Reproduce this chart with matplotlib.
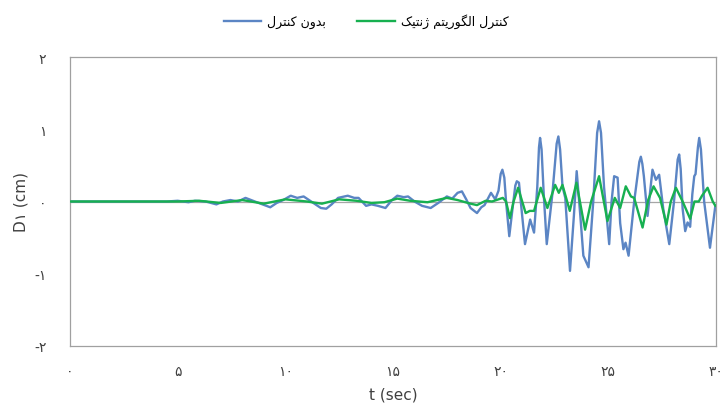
import numpy as np
import matplotlib
matplotlib.use("Agg")
import matplotlib.pyplot as plt

# ================================
# Data
# ================================

t_blue = [0, 4.5, 5.0, 5.5, 5.8, 6.3, 6.8, 7.1, 7.45, 7.8, 8.15, 8.5, 8.85, 9.3, 9.6, 9.9,
          10.25, 10.55, 10.85, 11.2, 11.65, 11.9, 12.15, 12.45, 12.9, 13.2, 13.4, 13.75,
          14.0, 14.3, 14.65, 14.95, 15.2, 15.5, 15.7, 16.0, 16.35, 16.75, 17.1, 17.5,
          17.75, 18.0, 18.2, 18.4, 18.6, 18.9, 19.1, 19.25, 19.55, 19.75, 19.9, 20.0, 20.08,
          20.17, 20.25, 20.4, 20.55, 20.68, 20.75, 20.85, 21.0, 21.13, 21.37, 21.55, 21.7,
          21.78, 21.83, 21.9, 22.0, 22.14, 22.4, 22.6, 22.68, 22.76, 22.87, 23.0, 23.22,
          23.4, 23.53, 23.7, 23.84, 24.08, 24.3, 24.48, 24.57, 24.66, 24.8, 25.04, 25.15,
          25.27, 25.43, 25.55, 25.7, 25.8, 25.94, 26.2, 26.44, 26.51, 26.58, 26.65, 26.82,
          27.05, 27.21, 27.36, 27.55, 27.83, 28.05, 28.22, 28.29, 28.36, 28.45, 28.57,
          28.68, 28.8, 28.9, 28.99, 29.05, 29.16, 29.22, 29.3, 29.45, 29.72, 29.97]
d_blue = [0, 0, 0.01, -0.01, 0.01, 0.0, -0.04, 0.0, 0.02, 0.0, 0.05, 0.01, -0.03, -0.08, -0.02, 0.02,
          0.08, 0.05, 0.07, 0.0, -0.09, -0.1, -0.04, 0.05, 0.08, 0.05, 0.05, -0.06,
          -0.04, -0.06, -0.09, 0.02, 0.08, 0.06, 0.07, 0.0, -0.06, -0.09, -0.02, 0.07,
          0.04, 0.12, 0.14, 0.03, -0.09, -0.16, -0.08, -0.05, 0.12, 0.03, 0.15, 0.38, 0.44,
          0.33, 0.0, -0.48, -0.1, 0.22, 0.28, 0.26, -0.2, -0.59, -0.25, -0.43, 0.2,
          0.75, 0.88, 0.72, 0.1, -0.59, 0.1, 0.80, 0.90, 0.72, 0.21, 0.05, -0.96,
          -0.2, 0.42, -0.2, -0.75, -0.91, 0.0, 0.95, 1.11, 0.95, 0.2, -0.59, 0.0,
          0.35, 0.33, -0.3, -0.66, -0.57, -0.75, 0.0, 0.55, 0.62, 0.52, 0.35, -0.2,
          0.44, 0.30, 0.37, -0.1, -0.59, 0.0, 0.58, 0.65, 0.45, -0.1, -0.41,
          -0.29, -0.35, 0.1, 0.35, 0.38, 0.75, 0.88, 0.72, 0.0, -0.64, -0.06]

t_green = [0, 5, 6, 7, 8, 9, 10, 11, 11.7, 12.5, 13.3, 14.0, 14.6, 15.2, 15.8, 16.6, 17.5,
           18.0, 18.6, 18.9, 19.3, 19.6, 19.9, 20.1, 20.25, 20.43, 20.6, 20.81, 21.0,
           21.16, 21.35, 21.55, 21.86, 22.17, 22.53, 22.7, 22.87, 23.21, 23.52, 23.92,
           24.2, 24.57, 24.96, 25.3, 25.55, 25.81, 26.05, 26.2, 26.59, 26.85, 27.1,
           27.4, 27.7, 27.9, 28.14, 28.45, 28.8, 29.0, 29.2, 29.35, 29.61, 29.85, 29.97]
d_green = [0, 0, 0.01, -0.02, 0.02, -0.03, 0.03, 0.0, -0.03, 0.03, 0.01, -0.02, -0.01, 0.04, 0.01, -0.01, 0.05,
           0.02, -0.03, -0.05, 0.01, 0.0, 0.03, 0.05, 0.0, -0.23, 0.0, 0.19, 0.0,
           -0.16, -0.13, -0.13, 0.19, -0.09, 0.23, 0.12, 0.23, -0.13, 0.26, -0.39,
           0.0, 0.35, -0.27, 0.05, -0.09, 0.21, 0.07, 0.05, -0.36, 0.02, 0.21,
           0.05, -0.32, 0.0, 0.19, 0.0, -0.24, 0.0, 0.0, 0.08, 0.19, 0.0, -0.06]

x_ticks = [0, 5, 10, 15, 20, 25, 30]
y_ticks = [-2, -1, 0, 1, 2]

label_blue = "بدون کنترل"
label_green = "کنترل الگوریتم ژنتیک"

# ================================
# Minimal Persian shaping (matplotlib has no bidi / joining)
# ================================

# letter: (isolated, final, initial, medial)  -- None means non-joining forward
forms = {
    "ا": ("\uFE8D", "\uFE8E", None, None),
    "ب": ("\uFE8F", "\uFE90", "\uFE91", "\uFE92"),
    "ت": ("\uFE95", "\uFE96", "\uFE97", "\uFE98"),
    "د": ("\uFEA9", "\uFEAA", None, None),
    "ر": ("\uFEAD", "\uFEAE", None, None),
    "ل": ("\uFEDD", "\uFEDE", "\uFEDF", "\uFEE0"),
    "م": ("\uFEE1", "\uFEE2", "\uFEE3", "\uFEE4"),
    "ن": ("\uFEE5", "\uFEE6", "\uFEE7", "\uFEE8"),
    "و": ("\uFEED", "\uFEEE", None, None),
    "ک": ("\uFB8E", "\uFB8F", "\uFB90", "\uFB91"),
    "گ": ("\uFB92", "\uFB93", "\uFB94", "\uFB95"),
    "ژ": ("\uFB8A", "\uFB8B", None, None),
    "ی": ("\uFBFC", "\uFBFD", "\uFBFE", "\uFBFF"),
}


def shape(text):
    out = []
    for i, ch in enumerate(text):
        if ch not in forms:
            out.append(ch)
            continue
        prev = text[i - 1] if i > 0 else " "
        nxt = text[i + 1] if i + 1 < len(text) else " "
        join_prev = prev in forms and forms[prev][2] is not None
        join_next = nxt in forms and forms[ch][2] is not None
        iso, fin, ini, med = forms[ch]
        if join_prev and join_next:
            out.append(med)
        elif join_prev:
            out.append(fin)
        elif join_next:
            out.append(ini)
        else:
            out.append(iso)
    return "".join(reversed(out))


fa_digits = "۰۱۲۳۴۵۶۷۸۹"


def fa_num(v):
    s = "".join(fa_digits[int(c)] for c in str(abs(int(v))))
    return ("-" + s) if v < 0 else s


plt.rcParams['font.family'] = ['DejaVu Sans']

# ================================
# Plot
# ================================
fig = plt.figure(figsize=(7.21, 4.06), dpi=100)
ax = fig.add_axes([70 / 721, 1 - 347 / 406, 646 / 721, 289 / 406])

ax.axhline(0, color='#a6a6a6', linewidth=0.9, zorder=1)
ax.plot(t_blue, d_blue, color='#5b85c4', linewidth=1.7, label=shape(label_blue), zorder=2)
ax.plot(t_green, d_green, color='#17b050', linewidth=1.7, label=shape(label_green), zorder=3)

ax.set_xlim(0, 30)
ax.set_ylim(-2, 2)
ax.set_xticks(x_ticks)
ax.set_xticklabels([fa_num(v) for v in x_ticks], fontsize=10)
ax.set_yticks(y_ticks)
ax.set_yticklabels([fa_num(v) for v in y_ticks], fontsize=10)
ax.tick_params(axis='both', length=0, colors='#404040')
ax.tick_params(axis='x', pad=13)
ax.tick_params(axis='y', pad=17)

for sp in ax.spines.values():
    sp.set_color('#a0a0a0')
    sp.set_linewidth(0.9)

ax.set_xlabel("t (sec)", fontsize=11, color='#404040', labelpad=6)
ax.set_ylabel("D۱ (cm)", fontsize=11, color='#404040', labelpad=4)

fig.legend(loc='center', bbox_to_anchor=(0.508, 1 - 22 / 406), ncol=2, frameon=False,
           fontsize=9, handlelength=3.0, columnspacing=2.5, handletextpad=0.5)

fig.savefig("out.png", dpi=100)
